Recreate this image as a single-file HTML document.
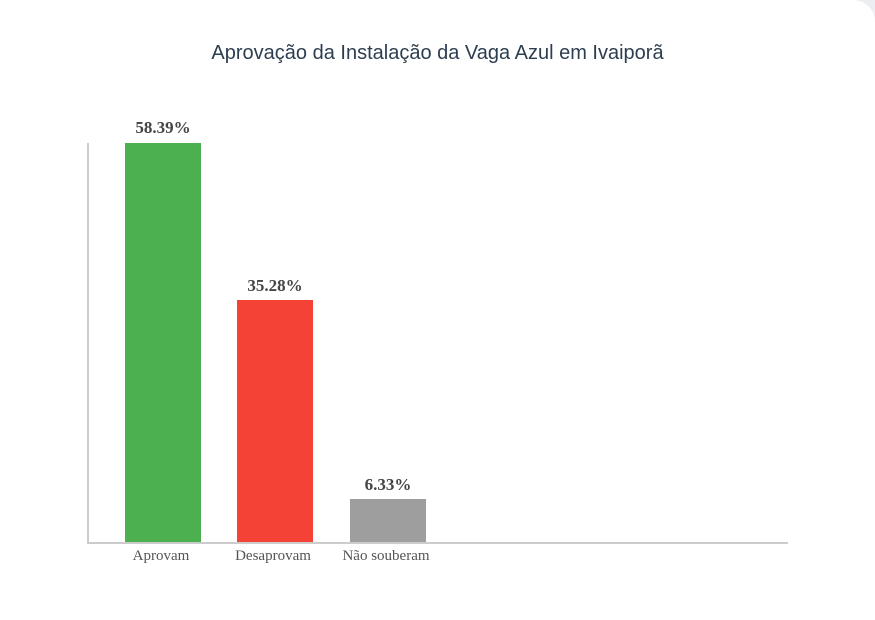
<!DOCTYPE html>
<html><head><style>
body{margin:0;width:875px;height:597px;background:#eceef3;overflow:hidden;font-family:"Liberation Sans",sans-serif}
.card{position:absolute;left:0;top:0;width:875px;height:620px;background:#fff;border-radius:0 22px 0 0}
.t{position:absolute;top:42px;left:0;width:875px;text-align:center;font-size:20px;color:#2c3e50}
</style></head><body>
<div class="card"></div>
<div class="t">Aprovação da Instalação da Vaga Azul em Ivaiporã</div>
<svg width="875" height="597" style="position:absolute;left:0;top:0">
<line x1="88" y1="143" x2="88" y2="543" stroke="#ccc" stroke-width="2"/>
<line x1="87" y1="543" x2="788" y2="543" stroke="#ccc" stroke-width="2"/>
<rect x="125" y="143" width="76" height="399" fill="#4caf50"/>
<rect x="237" y="300" width="76" height="242" fill="#f44336"/>
<rect x="350" y="499" width="76" height="43" fill="#9e9e9e"/>
<g font-family="Liberation Serif,serif" font-weight="bold" font-size="17" fill="#444" text-anchor="middle">
<text x="163" y="133">58.39%</text><text x="275" y="291">35.28%</text><text x="388" y="490">6.33%</text></g>
<g font-family="Liberation Serif,serif" font-size="15" fill="#555" text-anchor="middle">
<text x="161" y="560">Aprovam</text><text x="273" y="560">Desaprovam</text><text x="386" y="560">Não souberam</text></g>
</svg>
</body></html>
